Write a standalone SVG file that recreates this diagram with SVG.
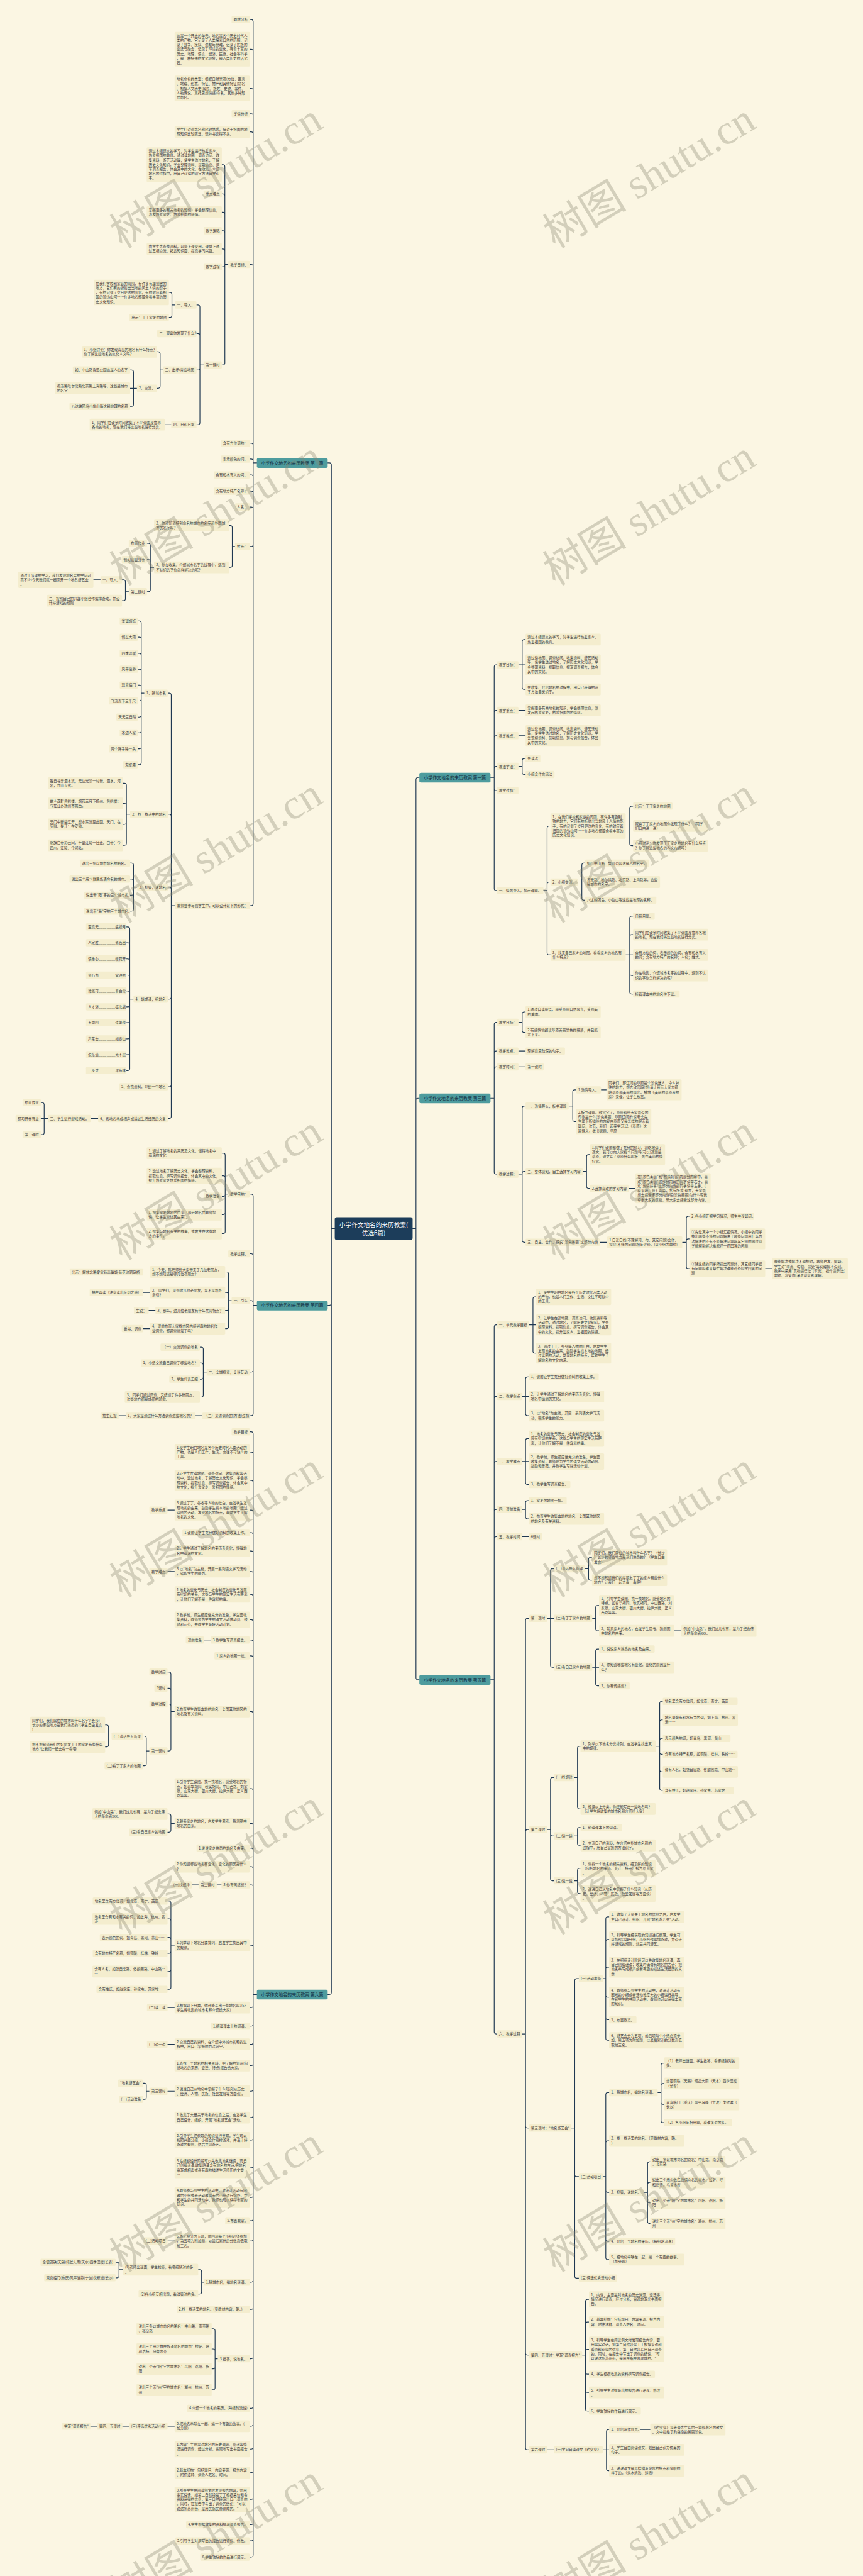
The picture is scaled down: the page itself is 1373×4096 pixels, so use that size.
<svg xmlns="http://www.w3.org/2000/svg" width="1373" height="4096" viewBox="0 0 1373 4096">
<style>
.bg{fill:#FBF6E3}
.b{fill:#F4EDCE;rx:3px}
.t{font-family:"Noto Sans CJK SC","Noto Sans",sans-serif;font-size:10.5px;fill:#3A3A3A}
.c{fill:none;stroke:#1F3852;stroke-width:2.2;stroke-linejoin:round;stroke-linecap:round}
.k rect{fill:#4E9C9E;rx:4px}
.k text{font-family:"Noto Sans CJK SC","Noto Sans",sans-serif;font-size:13px;fill:#0F2A3F;text-anchor:middle}
.r rect{fill:#1C3D5A;rx:6px}
.r text{font-family:"Noto Sans CJK SC","Noto Sans",sans-serif;font-size:18px;fill:#FFFFFF;text-anchor:middle}
.w{font-family:"Liberation Serif","Noto Sans CJK SC",serif;font-size:125px;fill:#8A8670;fill-opacity:.35;text-anchor:middle}
</style>
<rect class="bg" x="0" y="0" width="1373" height="4096"/>
<g transform="scale(0.536328)">
<g id="connectors" class="c">
<path d="M993 3642H983M983 3642V1378Q983 1372 977 1372H972M983 3642V3864Q983 3870 977 3870H972M983 3642V5907Q983 5913 977 5913H972"/>
<path d="M1224 3642H1234M1234 3642V2311Q1234 2305 1240 2305H1244M1234 3642V3262Q1234 3256 1240 3256H1244M1234 3642V4974Q1234 4980 1240 4980H1244"/>
<path d="M762 1372H751M751 1372V64Q751 58 745 58H741M751 1372V152Q751 146 745 146H741M751 1372V268Q751 262 745 262H741M751 1372V343Q751 337 745 337H741M751 1372V397Q751 391 745 391H741M751 1372V790Q751 784 745 784H741M751 1372V1320Q751 1314 745 1314H741M751 1372V1367Q751 1361 745 1361H741M751 1372V1414Q751 1408 745 1408H741M751 1372V1462Q751 1456 745 1456H741M751 1372V1509Q751 1503 745 1503H741M751 1372V1614Q751 1620 745 1620H741M751 1372V2679Q751 2685 745 2685H741"/>
<path d="M677 784H667M667 784V494Q667 488 661 488H658M667 784V581Q667 575 661 575H658M667 784V635Q667 629 661 629H658M667 784V690Q667 684 661 684H658M667 784V744Q667 738 661 738H658M667 784V785Q667 791 661 791H658M667 784V1076Q667 1082 661 1082H658"/>
<path d="M604 1082H593M593 1082V910Q593 904 587 904H583M593 1082V995Q593 989 587 989H583M593 1082V1091Q593 1097 587 1097H583M593 1082V1253Q593 1259 587 1259H583"/>
<path d="M519 904H510M510 904V873Q510 867 504 867H501M510 904V935Q510 941 504 941H501"/>
<path d="M483 1097H475M475 1097V1049Q475 1043 469 1043H466M475 1097V1145Q475 1151 469 1151H466"/>
<path d="M406 1151H386M396 1151V1103Q396 1097 390 1097H386M396 1151V1199Q396 1205 390 1205H386"/>
<path d="M508 1259H489"/>
<path d="M697 1620H689M689 1620V1564Q689 1558 683 1558H680M689 1620V1676Q689 1682 683 1682H680"/>
<path d="M457 1682H446M446 1682V1617Q446 1611 440 1611H436M446 1682V1665Q446 1659 440 1659H436M446 1682V1748Q446 1754 440 1754H436"/>
<path d="M382 1754H372M372 1754V1725Q372 1719 366 1719H362M372 1754V1775Q372 1781 366 1781H362"/>
<path d="M298 1719H277"/>
<path d="M519 2685H508M508 2685V2061Q508 2055 502 2055H498M508 2685V2420Q508 2414 502 2414H498M508 2685V2636Q508 2630 502 2630H498M508 2685V2956Q508 2962 502 2962H498M508 2685V3216Q508 3222 502 3222H498M508 2685V3310Q508 3316 502 3316H498"/>
<path d="M428 2055H419M419 2055V1847Q419 1841 413 1841H409M419 2055V1895Q419 1889 413 1889H409M419 2055V1943Q419 1937 413 1937H409M419 2055V1990Q419 1984 413 1984H409M419 2055V2037Q419 2031 413 2031H409M419 2055V2072Q419 2078 413 2078H409M419 2055V2120Q419 2126 413 2126H409M419 2055V2167Q419 2173 413 2173H409M419 2055V2214Q419 2220 413 2220H409M419 2055V2261Q419 2267 413 2267H409"/>
<path d="M386 2414H375M375 2414V2328Q375 2322 369 2322H365M375 2414V2388Q375 2382 369 2382H365M375 2414V2438Q375 2444 369 2444H365M375 2414V2500Q375 2506 369 2506H365"/>
<path d="M407 2630H396M396 2630V2565Q396 2559 390 2559H386M396 2630V2612Q396 2606 390 2606H386M396 2630V2648Q396 2654 390 2654H386M396 2630V2695Q396 2701 390 2701H386"/>
<path d="M396 2962H385M385 2962V2754Q385 2748 379 2748H375M385 2962V2801Q385 2795 379 2795H375M385 2962V2849Q385 2843 379 2843H375M385 2962V2897Q385 2891 379 2891H375M385 2962V2944Q385 2938 379 2938H375M385 2962V2979Q385 2985 379 2985H375M385 2962V3026Q385 3032 379 3032H375M385 2962V3074Q385 3080 379 3080H375M385 2962V3121Q385 3127 379 3127H375M385 2962V3168Q385 3174 379 3174H375"/>
<path d="M291 3316H269M142 3316H121M131 3316V3275Q131 3269 125 3269H121M131 3316V3358Q131 3364 125 3364H121"/>
<path d="M762 3870H751M751 3870V3546Q751 3540 745 3540H741M751 3870V3723Q751 3717 745 3717H741M751 3870V3862Q751 3856 745 3856H741M751 3870V4062Q751 4068 745 4068H741M751 3870V4191Q751 4197 745 4197H741"/>
<path d="M677 3540H668M668 3540V3425Q668 3419 662 3419H658M668 3540V3492Q668 3486 662 3486H658M668 3540V3541Q668 3547 662 3547H658M668 3540V3595Q668 3601 662 3601H658M668 3540V3651Q668 3657 662 3657H658"/>
<path d="M687 3856H678M678 3856V3777Q678 3771 672 3771H668M678 3856V3838Q678 3832 672 3832H668M678 3856V3879Q678 3885 672 3885H668M678 3856V3933Q678 3939 672 3939H668M445 3771H425M445 3832H425M461 3885H441M445 3939H425"/>
<path d="M613 4068H603M603 4068V4000Q603 3994 597 3994H593M603 4068V4047Q603 4041 597 4041H593M603 4068V4083Q603 4089 597 4089H593M603 4068V4136Q603 4142 597 4142H593"/>
<path d="M600 4197H580M373 4197H352"/>
<path d="M762 5913H751M751 5913V4251Q751 4245 745 4245H741M751 5913V4311Q751 4305 745 4305H741M751 5913V4395Q751 4389 745 4389H741M751 5913V4483Q751 4477 745 4477H741M751 5913V4550Q751 4544 745 4544H741M751 5913V4604Q751 4598 745 4598H741M751 5913V4665Q751 4659 745 4659H741M751 5913V4733Q751 4727 745 4727H741M751 5913V4808Q751 4802 745 4802H741M751 5913V4868Q751 4862 745 4862H741M751 5913V4915Q751 4909 745 4909H741M751 5913V5080Q751 5074 745 5074H741M751 5913V5309Q751 5303 745 5303H741M751 5913V5412Q751 5406 745 5406H741M751 5913V5485Q751 5479 745 5479H741M751 5913V5540Q751 5534 745 5534H741M751 5913V5594Q751 5588 745 5588H741M751 5913V5773Q751 5767 745 5767H741"/>
<path d="M751 5913V5946Q751 5952 745 5952H741M751 5913V6001Q751 6007 745 6007H741M751 5913V6055Q751 6061 745 6061H741M751 5913V6118Q751 6124 745 6124H741M751 5913V6194Q751 6200 745 6200H741M751 5913V6272Q751 6278 745 6278H741M751 5913V6339Q751 6345 745 6345H741M751 5913V6421Q751 6427 745 6427H741M751 5913V6509Q751 6515 745 6515H741M751 5913V6578Q751 6584 745 6584H741M751 5913V6638Q751 6644 745 6644H741M751 5913V6760Q751 6766 745 6766H741M751 5913V6841Q751 6847 745 6847H741M751 5913V6987Q751 6993 745 6993H741M751 5913V7134Q751 7140 745 7140H741M751 5913V7187Q751 7193 745 7193H741M751 5913V7255Q751 7261 745 7261H741M751 5913V7325Q751 7331 745 7331H741M751 5913V7404Q751 7410 745 7410H741M751 5913V7479Q751 7485 745 7485H741M751 5913V7527Q751 7533 745 7533H741M751 5913V7575Q751 7581 745 7581H741"/>
<path d="M518 4477H497M518 4659H497M625 4862H605M657 5588H643M589 5588H569M518 5952H497M518 6061H497M518 6644H497M518 7193H497M383 7193H363M288 7193H268"/>
<path d="M518 5074H507M507 5074V4963Q507 4957 501 4957H497M507 5074V5011Q507 5005 501 5005H497M507 5074V5058Q507 5052 501 5052H497M507 5074V5185Q507 5191 501 5191H497"/>
<path d="M443 5191H434M434 5191V5153Q434 5147 428 5147H424M434 5191V5229Q434 5235 428 5235H424"/>
<path d="M331 5147H322M322 5147V5120Q322 5114 316 5114H312M322 5147V5173Q322 5179 316 5179H312"/>
<path d="M518 5406H507M507 5406V5384Q507 5378 501 5378H497M507 5406V5426Q507 5432 501 5432H497"/>
<path d="M518 5767H507M507 5767V5642Q507 5636 501 5636H497M507 5767V5695Q507 5689 501 5689H497M507 5767V5750Q507 5744 501 5744H497M507 5767V5785Q507 5791 501 5791H497M507 5767V5839Q507 5845 501 5845H497M507 5767V5892Q507 5898 501 5898H497"/>
<path d="M518 6200H497M443 6200H434M434 6200V6182Q434 6176 428 6176H424M434 6200V6218Q434 6224 428 6224H424"/>
<path d="M605 6766H598M598 6766V6735Q598 6729 592 6729H588M598 6766V6795Q598 6801 592 6801H588"/>
<path d="M365 6729H353M353 6729V6713Q353 6707 347 6707H343M353 6729V6747Q353 6753 347 6753H343"/>
<path d="M646 6993H638M638 6993V6910Q638 6904 632 6904H628M638 6993V6970Q638 6964 632 6964H628M638 6993V7017Q638 7023 632 7023H628M638 6993V7079Q638 7085 632 7085H628"/>
<path d="M1455 2305H1466M1466 2305V1977Q1466 1971 1472 1971H1474M1466 2305V2112Q1466 2106 1472 2106H1474M1466 2305V2187Q1466 2181 1472 2181H1474M1466 2305V2278Q1466 2272 1472 2272H1474M1466 2305V2338Q1466 2344 1472 2344H1474M1466 2305V2634Q1466 2640 1472 2640H1474"/>
<path d="M1538 1971H1559M1549 1971V1902Q1549 1896 1555 1896H1559M1549 1971V2038Q1549 2044 1555 2044H1559M1538 2106H1559M1538 2181H1559"/>
<path d="M1538 2272H1549M1549 2272V2255Q1549 2249 1555 2249H1559M1549 2272V2290Q1549 2296 1555 2296H1559"/>
<path d="M1612 2640H1623M1623 2640V2455Q1623 2449 1629 2449H1633M1623 2640V2621Q1623 2615 1629 2615H1633M1623 2640V2825Q1623 2831 1629 2831H1633"/>
<path d="M1856 2449H1878M1868 2449V2396Q1868 2390 1874 2390H1878M1868 2449V2501Q1868 2507 1874 2507H1878"/>
<path d="M1714 2615H1735M1726 2615V2565Q1726 2559 1732 2559H1735M1726 2615V2663Q1726 2669 1732 2669H1735"/>
<path d="M1856 2831H1878M1868 2831V2722Q1868 2716 1874 2716H1878M1868 2831V2777Q1868 2771 1874 2771H1878M1868 2831V2886Q1868 2892 1874 2892H1878M1868 2831V2941Q1868 2947 1874 2947H1878"/>
<path d="M1455 3256H1466M1466 3256V3037Q1466 3031 1472 3031H1474M1466 3256V3122Q1466 3116 1472 3116H1474M1466 3256V3169Q1466 3163 1472 3163H1474M1466 3256V3475Q1466 3481 1472 3481H1474"/>
<path d="M1538 3031H1549M1549 3031V3006Q1549 3000 1555 3000H1559M1549 3031V3055Q1549 3061 1555 3061H1559M1538 3116H1559M1538 3163H1559"/>
<path d="M1538 3481H1549M1549 3481V3285Q1549 3279 1555 3279H1559M1549 3481V3479Q1549 3473 1555 3473H1559M1549 3481V3677Q1549 3683 1555 3683H1559"/>
<path d="M1687 3279H1699M1699 3279V3237Q1699 3231 1705 3231H1709M1699 3279V3319Q1699 3325 1705 3325H1709M1783 3231H1799"/>
<path d="M1729 3473H1740M1740 3473V3429Q1740 3423 1746 3423H1750M1740 3473V3517Q1740 3523 1746 3523H1750M1866 3523H1885"/>
<path d="M1780 3683H1801M2024 3683H2036M2036 3683V3612Q2036 3606 2042 3606H2045M2036 3683V3679Q2036 3673 2042 3673H2045M2036 3683V3755Q2036 3761 2042 3761H2045M2270 3761H2290"/>
<path d="M1455 4980H1466M1466 4980V3934Q1466 3928 1472 3928H1474M1466 4980V4146Q1466 4140 1472 4140H1474M1466 4980V4339Q1466 4333 1472 4333H1474M1466 4980V4481Q1466 4475 1472 4475H1474M1466 4980V4562Q1466 4556 1472 4556H1474M1466 4980V6024Q1466 6030 1472 6030H1474"/>
<path d="M1570 3928H1590M1581 3928V3851Q1581 3845 1587 3845H1590M1581 3928V4006Q1581 4012 1587 4012H1590"/>
<path d="M1549 4140H1569M1559 4140V4088Q1559 4082 1565 4082H1569M1559 4140V4191Q1559 4197 1565 4197H1569"/>
<path d="M1549 4333H1569M1559 4333V4271Q1559 4265 1565 4265H1569M1559 4333V4395Q1559 4401 1565 4401H1569"/>
<path d="M1549 4475H1559M1559 4475V4455Q1559 4449 1565 4449H1569M1559 4475V4497Q1559 4503 1565 4503H1569M1549 4556H1569"/>
<path d="M1549 6030H1559M1559 6030V4804Q1559 4798 1565 4798H1569M1559 6030V5430Q1559 5424 1565 5424H1569M1559 6030V6303Q1559 6309 1565 6309H1569M1559 6030V6976Q1559 6982 1565 6982H1569M1559 6030V7257Q1559 7263 1565 7263H1569"/>
<path d="M1623 4798H1643M1633 4798V4657Q1633 4651 1639 4651H1643M1633 4798V4937Q1633 4943 1639 4943H1643"/>
<path d="M1736 4651H1746M1746 4651V4623Q1746 4617 1752 4617H1756M1746 4651V4679Q1746 4685 1752 4685H1756"/>
<path d="M1757 4798H1767M1767 4798V4766Q1767 4760 1773 4760H1777M1767 4798V4829Q1767 4835 1773 4835H1777M2000 4835H2021"/>
<path d="M1757 4943H1777M1767 4943V4895Q1767 4889 1773 4889H1777M1767 4943V4992Q1767 4998 1773 4998H1777"/>
<path d="M1623 5424H1633M1633 5424V5276Q1633 5270 1639 5270H1643M1633 5424V5437Q1633 5443 1639 5443H1643M1633 5424V5570Q1633 5576 1639 5576H1643"/>
<path d="M1704 5270H1713M1713 5270V5183Q1713 5177 1719 5177H1722M1713 5270V5357Q1713 5363 1719 5363H1722"/>
<path d="M1945 5177H1957M1957 5177V5050Q1957 5044 1963 5044H1966M1957 5177V5105Q1957 5099 1963 5099H1966M1957 5177V5160Q1957 5154 1963 5154H1966M1957 5177V5195Q1957 5201 1963 5201H1966M1957 5177V5247Q1957 5253 1963 5253H1966M1957 5177V5302Q1957 5308 1963 5308H1966"/>
<path d="M1704 5443H1713M1713 5443V5424Q1713 5418 1719 5418H1722M1713 5443V5465Q1713 5471 1719 5471H1722"/>
<path d="M1704 5576H1713M1713 5576V5545Q1713 5539 1719 5539H1722M1713 5576V5608Q1713 5614 1719 5614H1722"/>
<path d="M1695 6309H1705M1705 6309V5872Q1705 5866 1711 5866H1717M1705 6309V6447Q1705 6453 1711 6453H1717M1705 6309V6748Q1705 6754 1711 6754H1717"/>
<path d="M1788 5866H1797M1797 5866V5689Q1797 5683 1803 5683H1807M1797 5866V5756Q1797 5750 1803 5750H1807M1797 5866V5838Q1797 5832 1803 5832H1807M1797 5866V5915Q1797 5921 1803 5921H1807M1797 5866V5982Q1797 5988 1803 5988H1807M1797 5866V6043Q1797 6049 1803 6049H1807"/>
<path d="M1788 6453H1797M1797 6453V6210Q1797 6204 1803 6204H1807M1797 6453V6353Q1797 6347 1803 6347H1807M1797 6453V6494Q1797 6500 1803 6500H1807M1797 6453V6639Q1797 6645 1803 6645H1807M1797 6453V6693Q1797 6699 1803 6699H1807"/>
<path d="M1951 6204H1961M1961 6204V6123Q1961 6117 1967 6117H1970M1961 6204V6183Q1961 6177 1967 6177H1970M1961 6204V6233Q1961 6239 1967 6239H1970M1961 6204V6287Q1961 6293 1967 6293H1970"/>
<path d="M1909 6500H1921M1921 6500V6415Q1921 6409 1927 6409H1929M1921 6500V6476Q1921 6470 1927 6470H1929M1921 6500V6525Q1921 6531 1927 6531H1929M1921 6500V6586Q1921 6592 1927 6592H1929"/>
<path d="M1727 6982H1737M1737 6982V6823Q1737 6817 1743 6817H1747M1737 6982V6890Q1737 6884 1743 6884H1747M1737 6982V6971Q1737 6965 1743 6965H1747M1737 6982V7033Q1737 7039 1743 7039H1747M1737 6982V7087Q1737 7093 1743 7093H1747M1737 6982V7142Q1737 7148 1743 7148H1747"/>
<path d="M1623 7263H1643M1788 7263H1807M1799 7263V7209Q1799 7203 1805 7203H1807M1799 7263V7319Q1799 7325 1805 7325H1807M1898 7203H1929"/>
</g>
<g id="root" class="r"><rect x="993" y="3609" width="231" height="67"/><text x="1108.5" y="3638">小学作文地名的来历教案(</text><text x="1108.5" y="3662">优选6篇)</text></g>
<g id="b2" class="k"><rect x="762" y="1358" width="210" height="29"/><text x="867" y="1377">小学作文地名的来历教案 第二篇</text></g>
<g id="b4" class="k"><rect x="762" y="3856" width="210" height="29"/><text x="867" y="3875">小学作文地名的来历教案 第四篇</text></g>
<g id="b6" class="k"><rect x="762" y="5899" width="210" height="29"/><text x="867" y="5918">小学作文地名的来历教案 第六篇</text></g>
<g id="b1" class="k"><rect x="1244" y="2291" width="211" height="29"/><text x="1349.5" y="2310">小学作文地名的来历教案 第一篇</text></g>
<g id="b3" class="k"><rect x="1244" y="3242" width="211" height="29"/><text x="1349.5" y="3261">小学作文地名的来历教案 第三篇</text></g>
<g id="b5" class="k"><rect x="1244" y="4966" width="211" height="29"/><text x="1349.5" y="4985">小学作文地名的来历教案 第五篇</text></g>
<g id="nodes-l2">
<g id="a1"><rect class="b" x="687" y="47.3" width="54" height="21.5"/><text class="t" x="693" y="61.8">教材分析</text></g>
<g id="a2"><rect class="b" x="518" y="94.8" width="223" height="102.5"/><text class="t" x="524" y="109.3">这是一个开放的单元。地名是各个历史时代人<tspan x="524" dy="13.5">类的产物。它记录了人类探索自然的历程，记</tspan><tspan x="524" dy="13.5">录了战争、疾病、浩劫与磨难，记录了民族的</tspan><tspan x="524" dy="13.5">变迁与融合，记录了环境的变化，有着丰富的</tspan><tspan x="524" dy="13.5">历史、地理、语言、经济、民族、社会等科学</tspan><tspan x="524" dy="13.5">，是一种特殊的文化现象，是人类历史的活化</tspan><tspan x="524" dy="13.5">石。</tspan></text></g>
<g id="a3"><rect class="b" x="518" y="224.3" width="223" height="75.5"/><text class="t" x="524" y="238.8">地名命名的类型：根据自然景观(方位、距离<tspan x="524" dy="13.5">、地理、形态、特征、物产和其他特征)命名</tspan><tspan x="524" dy="13.5">、根据人文历史(居民、族姓、史迹、事件、</tspan><tspan x="524" dy="13.5">人物传说、寓托思想情感)命名、其他多种形</tspan><tspan x="524" dy="13.5">式命名。</tspan></text></g>
<g id="a4"><rect class="b" x="687" y="326.3" width="54" height="21.5"/><text class="t" x="693" y="340.8">学情分析</text></g>
<g id="a5"><rect class="b" x="518" y="373.5" width="223" height="35"/><text class="t" x="524" y="388">学生们对道路名称比较熟悉，但对于祖国的地<tspan x="524" dy="13.5">理知识比较匮乏，课外书读得不多。</tspan></text></g>
<g id="a6"><rect class="b" x="677" y="773.3" width="64" height="21.5"/><text class="t" x="683" y="787.8">教学目标：</text></g>
<g id="a7"><rect class="b" x="435" y="436.8" width="223" height="102.5"/><text class="t" x="441" y="451.3">通过本组课文的学习，对学生进行热爱家乡、<tspan x="441" dy="13.5">热爱祖国的教育。通过读地图、调查访问、收</tspan><tspan x="441" dy="13.5">集资料、游艺活动等，使学生透过地名，了解</tspan><tspan x="441" dy="13.5">历史文化知识，学会整理资料、提取信息、撰</tspan><tspan x="441" dy="13.5">写调查报告，体会其中的文化。在收集、介绍</tspan><tspan x="441" dy="13.5">地名的过程中，用自己获得的识字方法自觉识</tspan><tspan x="441" dy="13.5">字。</tspan></text></g>
<g id="a8"><rect class="b" x="604" y="564.3" width="54" height="21.5"/><text class="t" x="610" y="578.8">重点难点</text></g>
<g id="a9"><rect class="b" x="435" y="611.5" width="223" height="35"/><text class="t" x="441" y="626">掌握更多的有关地名的知识，学会整理信息，<tspan x="441" dy="13.5">激发热爱家乡、热爱祖国的感情。</tspan></text></g>
<g id="a10"><rect class="b" x="604" y="673.3" width="54" height="21.5"/><text class="t" x="610" y="687.8">教学策略</text></g>
<g id="a11"><rect class="b" x="435" y="720.5" width="223" height="35"/><text class="t" x="441" y="735">由学生先查找资料，以备上课使用。课堂上通<tspan x="441" dy="13.5">过互相交流，拓宽知识面，提高学习兴趣。</tspan></text></g>
<g id="a12"><rect class="b" x="604" y="780.3" width="54" height="21.5"/><text class="t" x="610" y="794.8">教学过程</text></g>
<g id="a13"><rect class="b" x="604" y="1071.3" width="54" height="21.5"/><text class="t" x="610" y="1085.8">第一课时</text></g>
<g id="a14"><rect class="b" x="519" y="893.3" width="64" height="21.5"/><text class="t" x="525" y="907.8">一、导入：</text></g>
<g id="a15"><rect class="b" x="278" y="829.3" width="223" height="75.5"/><text class="t" x="284" y="843.8">在我们学校和家庭的周围，有许多有趣别致的<tspan x="284" dy="13.5">地方，它们有的折射出当地的风土人情的影子</tspan><tspan x="284" dy="13.5">，有的记载了岁月更迭的变化，有的对应着祖</tspan><tspan x="284" dy="13.5">国的锦绣山河……许多地名都蕴含着丰富的历</tspan><tspan x="284" dy="13.5">史文化知识。</tspan></text></g>
<g id="a16"><rect class="b" x="384" y="930.3" width="117" height="21.5"/><text class="t" x="390" y="944.8">出示：丁丁家乡的地图</text></g>
<g id="a17"><rect class="b" x="466" y="978.3" width="117" height="21.5"/><text class="t" x="472" y="992.8">二、观察你发现了什么？</text></g>
<g id="a18"><rect class="b" x="483.5" y="1086.3" width="99.5" height="21.5"/><text class="t" x="489.5" y="1100.8">三、出示:青岛地图</text></g>
<g id="a19"><rect class="b" x="243" y="1025.5" width="223" height="35"/><text class="t" x="249" y="1040">1、小组讨论：你发现青岛的地名有什么特点？<tspan x="249" dy="13.5">你了解这些地名的文化人文吗？</tspan></text></g>
<g id="a20"><rect class="b" x="406" y="1140.3" width="60" height="21.5"/><text class="t" x="412" y="1154.8">2、交流：</text></g>
<g id="a21"><rect class="b" x="216" y="1086.3" width="170" height="21.5"/><text class="t" x="222" y="1100.8">如：中山路鲁迅公园这是人的名字</text></g>
<g id="a22"><rect class="b" x="163" y="1133.5" width="223" height="35"/><text class="t" x="169" y="1148">香港路哈尔滨路北京路上海路等，这些是城市<tspan x="169" dy="13.5">的名字</tspan></text></g>
<g id="a23"><rect class="b" x="206" y="1194.3" width="180" height="21.5"/><text class="t" x="212" y="1208.8">八达峡团岛小鱼山等这是地理的名称</text></g>
<g id="a24"><rect class="b" x="508" y="1248.3" width="75" height="21.5"/><text class="t" x="514" y="1262.8">四、日积月累</text></g>
<g id="a25"><rect class="b" x="266" y="1241.5" width="223" height="35"/><text class="t" x="272" y="1256">1、同学们在课余时间收集了不少全国及世界<tspan x="272" dy="13.5">各地的地名，现在我们将这些地名进行分类：</tspan></text></g>
<g id="a26"><rect class="b" x="655" y="1303.3" width="86" height="21.5"/><text class="t" x="661" y="1317.8">含有方位词的：</text></g>
<g id="a27"><rect class="b" x="655" y="1350.3" width="86" height="21.5"/><text class="t" x="661" y="1364.8">表示颜色的词：</text></g>
<g id="a28"><rect class="b" x="634" y="1397.3" width="107" height="21.5"/><text class="t" x="640" y="1411.8">含有和水有关的词：</text></g>
<g id="a29"><rect class="b" x="634" y="1445.3" width="107" height="21.5"/><text class="t" x="640" y="1459.8">含有地方特产名称：</text></g>
<g id="a30"><rect class="b" x="697" y="1492.3" width="44" height="21.5"/><text class="t" x="703" y="1506.8">人名：</text></g>
<g id="a31"><rect class="b" x="697" y="1609.3" width="44" height="21.5"/><text class="t" x="703" y="1623.8">姓氏：</text></g>
<g id="a32"><rect class="b" x="457" y="1540.5" width="223" height="35"/><text class="t" x="463" y="1555">2、你还知道特别命名的城市的名字和外国城<tspan x="463" dy="13.5">市的名字吗？</tspan></text></g>
<g id="a33"><rect class="b" x="457" y="1664.5" width="223" height="35"/><text class="t" x="463" y="1679">3、你在收集、介绍城市名字的过程中，遇到<tspan x="463" dy="13.5">不认识的字你怎样解决的呢？</tspan></text></g>
<g id="a34"><rect class="b" x="382" y="1600.3" width="54" height="21.5"/><text class="t" x="388" y="1614.8">布置作业</text></g>
<g id="a35"><rect class="b" x="361" y="1648.3" width="75" height="21.5"/><text class="t" x="367" y="1662.8">预习初显身手</text></g>
<g id="a36"><rect class="b" x="382" y="1743.3" width="54" height="21.5"/><text class="t" x="388" y="1757.8">第二课时</text></g>
<g id="a37"><rect class="b" x="298" y="1708.3" width="64" height="21.5"/><text class="t" x="304" y="1722.8">一、导入：</text></g>
<g id="a38"><rect class="b" x="54" y="1694.8" width="223" height="48.5"/><text class="t" x="60" y="1709.3">通过上节课的学习，我们发现地名里的学问可<tspan x="60" dy="13.5">真不少!今天我们就一起来开一个地名游艺会</tspan><tspan x="60" dy="13.5">。</tspan></text></g>
<g id="a39"><rect class="b" x="139" y="1763.5" width="223" height="35"/><text class="t" x="145" y="1778">二、按照自己的兴趣小组合作编排游戏，并设<tspan x="145" dy="13.5">计好游戏的规则</tspan></text></g>
<g id="a40"><rect class="b" x="519" y="2674.3" width="222" height="21.5"/><text class="t" x="525" y="2688.8">教师要参与到学生中，可以设计以下的形式：</text></g>
<g id="a41"><rect class="b" x="428" y="2044.3" width="70" height="21.5"/><text class="t" x="434" y="2058.8">1、猜城市名</text></g>
<g id="a42"><rect class="b" x="355" y="1830.3" width="54" height="21.5"/><text class="t" x="361" y="1844.8">金银铜铁</text></g>
<g id="a43"><rect class="b" x="355" y="1878.3" width="54" height="21.5"/><text class="t" x="361" y="1892.8">倾盆大雨</text></g>
<g id="a44"><rect class="b" x="355" y="1926.3" width="54" height="21.5"/><text class="t" x="361" y="1940.8">四季温暖</text></g>
<g id="a45"><rect class="b" x="355" y="1973.3" width="54" height="21.5"/><text class="t" x="361" y="1987.8">风平浪静</text></g>
<g id="a46"><rect class="b" x="355" y="2020.3" width="54" height="21.5"/><text class="t" x="361" y="2034.8">双喜临门</text></g>
<g id="a47"><rect class="b" x="323" y="2067.3" width="86" height="21.5"/><text class="t" x="329" y="2081.8">飞流直下三千尺</text></g>
<g id="a48"><rect class="b" x="345" y="2115.3" width="64" height="21.5"/><text class="t" x="351" y="2129.8">天无三日晴</text></g>
<g id="a49"><rect class="b" x="355" y="2162.3" width="54" height="21.5"/><text class="t" x="361" y="2176.8">水边人家</text></g>
<g id="a50"><rect class="b" x="323" y="2209.3" width="86" height="21.5"/><text class="t" x="329" y="2223.8">两个胖子睡一头</text></g>
<g id="a51"><rect class="b" x="365" y="2256.3" width="44" height="21.5"/><text class="t" x="371" y="2270.8">戈壁滩</text></g>
<g id="a52"><rect class="b" x="386" y="2403.3" width="112" height="21.5"/><text class="t" x="392" y="2417.8">2、找一找诗中的地名</text></g>
<g id="a53"><rect class="b" x="142" y="2304.5" width="223" height="35"/><text class="t" x="148" y="2319">胜日寻芳泗水滨，无边光景一时新。泗水：河<tspan x="148" dy="13.5">名，在山东省。</tspan></text></g>
<g id="a54"><rect class="b" x="142" y="2364.5" width="223" height="35"/><text class="t" x="148" y="2379">故人西辞黄鹤楼，烟花三月下扬州。黄鹤楼：<tspan x="148" dy="13.5">今在江苏扬州市城西。</tspan></text></g>
<g id="a55"><rect class="b" x="142" y="2426.5" width="223" height="35"/><text class="t" x="148" y="2441">天门中断楚江开，碧水东流至此回。天门：在<tspan x="148" dy="13.5">安徽。楚江：在安徽。</tspan></text></g>
<g id="a56"><rect class="b" x="142" y="2488.5" width="223" height="35"/><text class="t" x="148" y="2503">朝辞白帝彩云间，千里江陵一日还。白帝：今<tspan x="148" dy="13.5">四川。江陵：今湖北。</tspan></text></g>
<g id="a57"><rect class="b" x="407" y="2619.3" width="91" height="21.5"/><text class="t" x="413" y="2633.8">3、抢答，说地名</text></g>
<g id="a58"><rect class="b" x="237" y="2548.3" width="149" height="21.5"/><text class="t" x="243" y="2562.8">说出三条以城市命名的路名。</text></g>
<g id="a59"><rect class="b" x="206" y="2595.3" width="180" height="21.5"/><text class="t" x="212" y="2609.8">说出三个用少数民族语命名的城市。</text></g>
<g id="a60"><rect class="b" x="249" y="2643.3" width="137" height="21.5"/><text class="t" x="255" y="2657.8">说出带"阳"字的三个城市名。</text></g>
<g id="a61"><rect class="b" x="249" y="2690.3" width="137" height="21.5"/><text class="t" x="255" y="2704.8">说出带"海"字的三个城市名。</text></g>
<g id="a62"><rect class="b" x="396" y="2951.3" width="102" height="21.5"/><text class="t" x="402" y="2965.8">4、填成语，组地名</text></g>
<g id="a63"><rect class="b" x="255" y="2737.3" width="120" height="21.5"/><text class="t" x="261" y="2751.8">至高无____ ____底捞月</text></g>
<g id="a64"><rect class="b" x="255" y="2784.3" width="120" height="21.5"/><text class="t" x="261" y="2798.8">人定胜____ ____落石出</text></g>
<g id="a65"><rect class="b" x="255" y="2832.3" width="120" height="21.5"/><text class="t" x="261" y="2846.8">语重心____ ____暖花开</text></g>
<g id="a66"><rect class="b" x="255" y="2880.3" width="120" height="21.5"/><text class="t" x="261" y="2894.8">金石为____ ____官许愿</text></g>
<g id="a67"><rect class="b" x="255" y="2927.3" width="120" height="21.5"/><text class="t" x="261" y="2941.8">难能可____ ____春白雪</text></g>
<g id="a68"><rect class="b" x="255" y="2974.3" width="120" height="21.5"/><text class="t" x="261" y="2988.8">人才济____ ____征北战</text></g>
<g id="a69"><rect class="b" x="255" y="3021.3" width="120" height="21.5"/><text class="t" x="261" y="3035.8">五湖四____ ____诛笔伐</text></g>
<g id="a70"><rect class="b" x="255" y="3069.3" width="120" height="21.5"/><text class="t" x="261" y="3083.8">声东击____ ____如泰山</text></g>
<g id="a71"><rect class="b" x="255" y="3116.3" width="120" height="21.5"/><text class="t" x="261" y="3130.8">说东道____ ____死不屈</text></g>
<g id="a72"><rect class="b" x="255" y="3163.3" width="120" height="21.5"/><text class="t" x="261" y="3177.8">一步登____ ____津有味</text></g>
<g id="a73"><rect class="b" x="354" y="3211.3" width="144" height="21.5"/><text class="t" x="360" y="3225.8">5、查找资料，介绍一个地名</text></g>
<g id="a74"><rect class="b" x="291" y="3305.3" width="207" height="21.5"/><text class="t" x="297" y="3319.8">6、将地名串成相声或描述生活经历的文章</text></g>
<g id="a75"><rect class="b" x="142" y="3305.3" width="127" height="21.5"/><text class="t" x="148" y="3319.8">三、学生进行游戏活动。</text></g>
<g id="a76"><rect class="b" x="67" y="3258.3" width="54" height="21.5"/><text class="t" x="73" y="3272.8">布置作业</text></g>
<g id="a77"><rect class="b" x="46" y="3305.3" width="75" height="21.5"/><text class="t" x="52" y="3319.8">预习开卷有益</text></g>
<g id="a78"><rect class="b" x="67" y="3353.3" width="54" height="21.5"/><text class="t" x="73" y="3367.8">第三课时</text></g>
</g>
<g id="nodes-l4">
<g id="d1"><rect class="b" x="677" y="3529.3" width="64" height="21.5"/><text class="t" x="683" y="3543.8">教学目的：</text></g>
<g id="d2"><rect class="b" x="435" y="3401.5" width="223" height="35"/><text class="t" x="441" y="3416">1. 通过了解地名的来历及文化，懂得地名中<tspan x="441" dy="13.5">蕴涵的文化</tspan></text></g>
<g id="d3"><rect class="b" x="435" y="3461.8" width="223" height="48.5"/><text class="t" x="441" y="3476.3">2. 透过地名了解历史文化，学会整理资料、<tspan x="441" dy="13.5">提取信息、撰写调查报告，体会其中的文化，</tspan><tspan x="441" dy="13.5">提升热爱家乡热爱祖国的情感。</tspan></text></g>
<g id="d4"><rect class="b" x="604" y="3536.3" width="54" height="21.5"/><text class="t" x="610" y="3550.8">教学准备</text></g>
<g id="d5"><rect class="b" x="435" y="3583.5" width="223" height="35"/><text class="t" x="441" y="3598">1. 搜集家乡地名的由来（部分地名由教师提<tspan x="441" dy="13.5">供，让学生查访其由来）。</tspan></text></g>
<g id="d6"><rect class="b" x="435" y="3639.5" width="223" height="35"/><text class="t" x="441" y="3654">2. 搜集与地名有关的故事，或发生在这些地<tspan x="441" dy="13.5">方的事件。</tspan></text></g>
<g id="d7"><rect class="b" x="677" y="3706.3" width="64" height="21.5"/><text class="t" x="683" y="3720.8">教学过程：</text></g>
<g id="d8"><rect class="b" x="687" y="3845.3" width="54" height="21.5"/><text class="t" x="693" y="3859.8">一、引入</text></g>
<g id="d9"><rect class="b" x="445" y="3753.5" width="223" height="35"/><text class="t" x="451" y="3768">1、今天，陈老师给大家带来了几位老朋友，<tspan x="451" dy="13.5">想不想知道是哪几位老朋友？</tspan></text></g>
<g id="d10"><rect class="b" x="207" y="3760.3" width="218" height="21.5"/><text class="t" x="213" y="3774.8">出示：解放北路梁家巷高笋塘 荷花池驷马桥</text></g>
<g id="d11"><rect class="b" x="445" y="3814.5" width="223" height="35"/><text class="t" x="451" y="3829">2、 同学们，见到这几位老朋友，是不是格外<tspan x="451" dy="13.5">亲切？</tspan></text></g>
<g id="d12"><rect class="b" x="266" y="3821.3" width="159" height="21.5"/><text class="t" x="272" y="3835.8">抽生再读（注意读出亲切之感）</text></g>
<g id="d13"><rect class="b" x="461" y="3874.3" width="207" height="21.5"/><text class="t" x="467" y="3888.8">3、那么，这几位老朋友有什么共同特点？</text></g>
<g id="d14"><rect class="b" x="397" y="3874.3" width="44" height="21.5"/><text class="t" x="403" y="3888.8">生说：</text></g>
<g id="d15"><rect class="b" x="445" y="3921.5" width="223" height="35"/><text class="t" x="451" y="3936">4、课前布置大家找市区内感兴趣的地名作一<tspan x="451" dy="13.5">些调查，都调查清楚了吗？</tspan></text></g>
<g id="d16"><rect class="b" x="361" y="3928.3" width="64" height="21.5"/><text class="t" x="367" y="3942.8">板书：调查</text></g>
<g id="d17"><rect class="b" x="613" y="4057.3" width="128" height="21.5"/><text class="t" x="619" y="4071.8">二、全城搜索，全班互动</text></g>
<g id="d18"><rect class="b" x="476" y="3983.3" width="117" height="21.5"/><text class="t" x="482" y="3997.8">（一）交流调查的地名</text></g>
<g id="d19"><rect class="b" x="418" y="4030.3" width="175" height="21.5"/><text class="t" x="424" y="4044.8">1、小组交流自己调查了哪些地名？</text></g>
<g id="d20"><rect class="b" x="502" y="4078.3" width="91" height="21.5"/><text class="t" x="508" y="4092.8">2、学生代表汇报</text></g>
<g id="d21"><rect class="b" x="370" y="4124.5" width="223" height="35"/><text class="t" x="376" y="4139">3、同学们通过调查，又结识了许多新朋友，<tspan x="376" dy="13.5">这些地方都是成都的骄傲。</tspan></text></g>
<g id="d22"><rect class="b" x="600" y="4186.3" width="141" height="21.5"/><text class="t" x="606" y="4200.8">（二）采访调查的(方法)过程</text></g>
<g id="d23"><rect class="b" x="373" y="4186.3" width="207" height="21.5"/><text class="t" x="379" y="4200.8">1、大家是通过什么方法调查这些地名的？</text></g>
<g id="d24"><rect class="b" x="298" y="4186.3" width="54" height="21.5"/><text class="t" x="304" y="4200.8">抽生汇报</text></g>
</g>
<g id="nodes-l6">
<g id="f1"><rect class="b" x="687" y="4234.3" width="54" height="21.5"/><text class="t" x="693" y="4248.8">教学目标</text></g>
<g id="f2"><rect class="b" x="518" y="4280.8" width="223" height="48.5"/><text class="t" x="524" y="4295.3">1.使学生明白地名是各个历史时代人类活动的<tspan x="524" dy="13.5">产物，也是人们工作、生活、交往不可缺少的</tspan><tspan x="524" dy="13.5">工具。</tspan></text></g>
<g id="f3"><rect class="b" x="518" y="4358" width="223" height="62"/><text class="t" x="524" y="4372.5">2.让学生在读地图、调查访问、收集资料等活<tspan x="524" dy="13.5">动中，透过地名，了解历史文化知识，学会整</tspan><tspan x="524" dy="13.5">理资料、提取信息、撰写调查报告，体会其中</tspan><tspan x="524" dy="13.5">的文化，提升爱家乡、爱祖国的情感。</tspan></text></g>
<g id="f4"><rect class="b" x="518" y="4446" width="223" height="62"/><text class="t" x="524" y="4460.5">3.通过丁丁、冬冬等人物的吐白，启发学生发<tspan x="524" dy="13.5">现地名的由来，鼓励学生找本地的地图，经过</tspan><tspan x="524" dy="13.5">读图的活动，发现地名的特点，帮助学生了解</tspan><tspan x="524" dy="13.5">地名的文化。</tspan></text></g>
<g id="f5"><rect class="b" x="443" y="4466.3" width="54" height="21.5"/><text class="t" x="449" y="4480.8">教学重点</text></g>
<g id="f6"><rect class="b" x="541" y="4533.3" width="200" height="21.5"/><text class="t" x="547" y="4547.8">1.课前让学生充分做好资料的收集工作。</text></g>
<g id="f7"><rect class="b" x="518" y="4580.5" width="223" height="35"/><text class="t" x="524" y="4595">2.让学生通过了解地名的来历及变化，懂得地<tspan x="524" dy="13.5">名中蕴涵的文化。</tspan></text></g>
<g id="f8"><rect class="b" x="518" y="4641.5" width="223" height="35"/><text class="t" x="524" y="4656">3.以"地名"为主线，开展一系列语文学习活动<tspan x="524" dy="13.5">，锻炼学生的能力。</tspan></text></g>
<g id="f9"><rect class="b" x="443" y="4648.3" width="54" height="21.5"/><text class="t" x="449" y="4662.8">教学难点</text></g>
<g id="f10"><rect class="b" x="518" y="4702.8" width="223" height="48.5"/><text class="t" x="524" y="4717.3">1.地名的变化与历史、社会制度的变化与发展<tspan x="524" dy="13.5">有密切的关系，这些与学生的现实生活有距离</tspan><tspan x="524" dy="13.5">，让他们了解不是一件容易的事。</tspan></text></g>
<g id="f11"><rect class="b" x="518" y="4777.8" width="223" height="48.5"/><text class="t" x="524" y="4792.3">2.教学前，师生都应做充分的准备，学生要收<tspan x="524" dy="13.5">集资料，教师要为学生的语文活动做动员、鼓</tspan><tspan x="524" dy="13.5">励和示范，并教学生写好活动计划。</tspan></text></g>
<g id="f12"><rect class="b" x="625" y="4851.3" width="116" height="21.5"/><text class="t" x="631" y="4865.8">3.教学生写调查报告。</text></g>
<g id="f13"><rect class="b" x="551" y="4851.3" width="54" height="21.5"/><text class="t" x="557" y="4865.8">课前准备</text></g>
<g id="f14"><rect class="b" x="636" y="4898.3" width="105" height="21.5"/><text class="t" x="642" y="4912.8">1.家乡的地图一幅。</text></g>
<g id="f15"><rect class="b" x="518" y="5056.5" width="223" height="35"/><text class="t" x="524" y="5071">2.布置学生收集本地的地名、全国其他地区的<tspan x="524" dy="13.5">地名及有关资料。</tspan></text></g>
<g id="f16"><rect class="b" x="443" y="4946.3" width="54" height="21.5"/><text class="t" x="449" y="4960.8">教学时间</text></g>
<g id="f17"><rect class="b" x="458" y="4994.3" width="39" height="21.5"/><text class="t" x="464" y="5008.8">5课时</text></g>
<g id="f18"><rect class="b" x="443" y="5041.3" width="54" height="21.5"/><text class="t" x="449" y="5055.8">教学过程</text></g>
<g id="f19"><rect class="b" x="443" y="5180.3" width="54" height="21.5"/><text class="t" x="449" y="5194.8">第一课时</text></g>
<g id="f20"><rect class="b" x="331" y="5136.3" width="93" height="21.5"/><text class="t" x="337" y="5150.8">(一)谈话导入新课</text></g>
<g id="f21"><rect class="b" x="89" y="5089.8" width="223" height="48.5"/><text class="t" x="95" y="5104.3">同学们，我们居住的城市叫什么名字?(长沙)<tspan x="95" dy="13.5">长沙的哪些地方是我们熟悉的?(学生自由发言</tspan><tspan x="95" dy="13.5">)</tspan></text></g>
<g id="f22"><rect class="b" x="89" y="5161.5" width="223" height="35"/><text class="t" x="95" y="5176">想不想知道我们的好朋友丁丁的家乡有些什么<tspan x="95" dy="13.5">地方?让我们一起去看一看吧!</tspan></text></g>
<g id="f23"><rect class="b" x="310" y="5224.3" width="114" height="21.5"/><text class="t" x="316" y="5238.8">(二)看丁丁家乡的地图</text></g>
<g id="f24"><rect class="b" x="518" y="5272" width="223" height="62"/><text class="t" x="524" y="5286.5">1.引导学生读图，找一找地名，感受地名的特<tspan x="524" dy="13.5">点，如春华胡同、秋实胡同，中山西路，刘家</tspan><tspan x="524" dy="13.5">堡，山东大街、银川大街、拉萨大街，正义西</tspan><tspan x="524" dy="13.5">路等等。</tspan></text></g>
<g id="f25"><rect class="b" x="518" y="5388.5" width="223" height="35"/><text class="t" x="524" y="5403">2.联系家乡的地名，启发学生思考、猜测图中<tspan x="524" dy="13.5">地名的由来。</tspan></text></g>
<g id="f26"><rect class="b" x="274" y="5360.5" width="223" height="35"/><text class="t" x="280" y="5375">例如"中山路"，我们这儿也有，是为了纪念伟<tspan x="280" dy="13.5">大的革命者xxx。</tspan></text></g>
<g id="f27"><rect class="b" x="383" y="5421.3" width="114" height="21.5"/><text class="t" x="389" y="5435.8">(三)看自己家乡的地图</text></g>
<g id="f28"><rect class="b" x="583" y="5468.3" width="158" height="21.5"/><text class="t" x="589" y="5482.8">1.说说家乡熟悉的地名及由来。</text></g>
<g id="f29"><rect class="b" x="518" y="5516.5" width="223" height="35"/><text class="t" x="524" y="5531">2.你知道哪些地名有变化，变化的原因是什么<tspan x="524" dy="13.5">？</tspan></text></g>
<g id="f30"><rect class="b" x="657" y="5577.3" width="84" height="21.5"/><text class="t" x="663" y="5591.8">3.你有何感想？</text></g>
<g id="f31"><rect class="b" x="589" y="5577.3" width="54" height="21.5"/><text class="t" x="595" y="5591.8">第二课时</text></g>
<g id="f32"><rect class="b" x="508" y="5577.3" width="61" height="21.5"/><text class="t" x="514" y="5591.8">(一)找规律</text></g>
<g id="f33"><rect class="b" x="518" y="5749.5" width="223" height="35"/><text class="t" x="524" y="5764">1.列举以下地名分类排列，启发学生找出其中<tspan x="524" dy="13.5">的规律。</tspan></text></g>
<g id="f34"><rect class="b" x="275" y="5625.3" width="222" height="21.5"/><text class="t" x="281" y="5639.8">地名里含有方位词，如北京、南宁、西安……</text></g>
<g id="f35"><rect class="b" x="274" y="5671.5" width="223" height="35"/><text class="t" x="280" y="5686">地名里含有和水有关的词，如上海、杭州、香<tspan x="280" dy="13.5">港……</tspan></text></g>
<g id="f36"><rect class="b" x="296" y="5733.3" width="201" height="21.5"/><text class="t" x="302" y="5747.8">表示颜色的词，如青岛、黑河、黄山……</text></g>
<g id="f37"><rect class="b" x="275" y="5780.3" width="222" height="21.5"/><text class="t" x="281" y="5794.8">含有地方特产名称，如铜陵、桂林、铁岭……</text></g>
<g id="f38"><rect class="b" x="274" y="5827.5" width="223" height="35"/><text class="t" x="280" y="5842">含有人名，如张自忠路、佟麟阁路、中山路…<tspan x="280" dy="13.5">…</tspan></text></g>
<g id="f39"><rect class="b" x="286" y="5887.3" width="211" height="21.5"/><text class="t" x="292" y="5901.8">含有姓氏，如赵家庄、孙家屯、苏家坨……</text></g>
<g id="f40"><rect class="b" x="518" y="5934.5" width="223" height="35"/><text class="t" x="524" y="5949">2.根据以上分类，你还能写出一些地名吗?(让<tspan x="524" dy="13.5">学生将收集的城市名称介绍给大家)</tspan></text></g>
<g id="f41"><rect class="b" x="436" y="5941.3" width="61" height="21.5"/><text class="t" x="442" y="5955.8">(二)读一读</text></g>
<g id="f42"><rect class="b" x="626" y="5996.3" width="115" height="21.5"/><text class="t" x="632" y="6010.8">1.朗读课本上的词语。</text></g>
<g id="f43"><rect class="b" x="518" y="6043.5" width="223" height="35"/><text class="t" x="524" y="6058">2.交流自己的资料，在介绍中外城市名称的过<tspan x="524" dy="13.5">程中，用自己掌握的方法识字。</tspan></text></g>
<g id="f44"><rect class="b" x="436" y="6050.3" width="61" height="21.5"/><text class="t" x="442" y="6064.8">(三)说一说</text></g>
<g id="f45"><rect class="b" x="518" y="6106.5" width="223" height="35"/><text class="t" x="524" y="6121">1.查找一个地名的相关资料，把了解的知识(包<tspan x="524" dy="13.5">括地名的来历、变迁、特点)报告给大家。</tspan></text></g>
<g id="f46"><rect class="b" x="518" y="6182.5" width="223" height="35"/><text class="t" x="524" y="6197">2.说说自己从地名中掌握了什么知识(从历史<tspan x="524" dy="13.5">、经济、人物、民族、社会发展等方面谈)。</tspan></text></g>
<g id="f47"><rect class="b" x="443" y="6189.3" width="54" height="21.5"/><text class="t" x="449" y="6203.8">第三课时</text></g>
<g id="f48"><rect class="b" x="350" y="6165.3" width="74" height="21.5"/><text class="t" x="356" y="6179.8">"地名游艺会"</text></g>
<g id="f49"><rect class="b" x="353" y="6213.3" width="71" height="21.5"/><text class="t" x="359" y="6227.8">(一)活动准备</text></g>
<g id="f50"><rect class="b" x="518" y="6260.5" width="223" height="35"/><text class="t" x="524" y="6275">1.收集了大量关于地名的信息之后，启发学生<tspan x="524" dy="13.5">自己设计、组织、开展"地名游艺会"活动。</tspan></text></g>
<g id="f51"><rect class="b" x="518" y="6320.8" width="223" height="48.5"/><text class="t" x="524" y="6335.3">2.引导学生把获取的知识进行整理。学生可以<tspan x="524" dy="13.5">按照兴趣分组，小组合作编排游戏，并设计好</tspan><tspan x="524" dy="13.5">游戏的规则，然后共同游艺。</tspan></text></g>
<g id="f52"><rect class="b" x="518" y="6396" width="223" height="62"/><text class="t" x="524" y="6410.5">3.在组织设计阶段可以先收集地名谜语，再自<tspan x="524" dy="13.5">己创编谜语;收集吟诵含有地名的古诗;把地名</tspan><tspan x="524" dy="13.5">串写成相声或者有趣的描述生活经历的文章…</tspan><tspan x="524" dy="13.5">…</tspan></text></g>
<g id="f53"><rect class="b" x="518" y="6484" width="223" height="62"/><text class="t" x="524" y="6498.5">4.教师参与到学生的活动中，对设计活动有困<tspan x="524" dy="13.5">难的小组或者活动难度大的小组进行指导，在</tspan><tspan x="524" dy="13.5">和学生的共同活动中，教师也可以获得丰富的</tspan><tspan x="524" dy="13.5">知识。</tspan></text></g>
<g id="f54"><rect class="b" x="668" y="6573.3" width="73" height="21.5"/><text class="t" x="674" y="6587.8">5.布置教室。</text></g>
<g id="f55"><rect class="b" x="518" y="6619.8" width="223" height="48.5"/><text class="t" x="524" y="6634.3">6.游艺会分为五项，前四项每个小组必须参加<tspan x="524" dy="13.5">，第五项为附加题，以最后累计的分数高低取</tspan><tspan x="524" dy="13.5">前三名。</tspan></text></g>
<g id="f56"><rect class="b" x="426" y="6633.3" width="71" height="21.5"/><text class="t" x="432" y="6647.8">(二)活动项目</text></g>
<g id="f57"><rect class="b" x="605" y="6755.3" width="136" height="21.5"/><text class="t" x="611" y="6769.8">1.猜城市名，编地名谜语。</text></g>
<g id="f58"><rect class="b" x="365" y="6711.5" width="223" height="35"/><text class="t" x="371" y="6726">(1)老师出谜面，学生抢答，看哪组猜对的多<tspan x="371" dy="13.5">。</tspan></text></g>
<g id="f59"><rect class="b" x="120" y="6696.3" width="223" height="21.5"/><text class="t" x="126" y="6710.8">金银铜铁(无锡)倾盆大雨(天水)四季温暖(长春)</text></g>
<g id="f60"><rect class="b" x="131" y="6742.3" width="212" height="21.5"/><text class="t" x="137" y="6756.8">双喜临门(重庆)风平浪静(宁波)戈壁滩(长沙)</text></g>
<g id="f61"><rect class="b" x="411" y="6790.3" width="177" height="21.5"/><text class="t" x="417" y="6804.8">(2)各小组互相出题，看谁答对的多。</text></g>
<g id="f62"><rect class="b" x="524" y="6836.3" width="217" height="21.5"/><text class="t" x="530" y="6850.8">2.找一找诗里的地名。(见教材内容，略。)</text></g>
<g id="f63"><rect class="b" x="646" y="6982.3" width="95" height="21.5"/><text class="t" x="652" y="6996.8">3.抢答，说地名。</text></g>
<g id="f64"><rect class="b" x="405" y="6886.5" width="223" height="35"/><text class="t" x="411" y="6901">说出三条以城市命名的路名：中山路、南京路<tspan x="411" dy="13.5">、北京路</tspan></text></g>
<g id="f65"><rect class="b" x="405" y="6946.5" width="223" height="35"/><text class="t" x="411" y="6961">说出三个用少数民族语命名的城市：拉萨、呼<tspan x="411" dy="13.5">和浩特、乌鲁木齐</tspan></text></g>
<g id="f66"><rect class="b" x="405" y="7005.5" width="223" height="35"/><text class="t" x="411" y="7020">说出三个带"阳"字的城市名：岳阳、洛阳、衡<tspan x="411" dy="13.5">阳</tspan></text></g>
<g id="f67"><rect class="b" x="405" y="7067.5" width="223" height="35"/><text class="t" x="411" y="7082">说出三个带"州"字的城市名：湖州、杭州、苏<tspan x="411" dy="13.5">州</tspan></text></g>
<g id="f68"><rect class="b" x="555" y="7129.3" width="186" height="21.5"/><text class="t" x="561" y="7143.8">4.介绍一个地名的来历。(每组轮流说)</text></g>
<g id="f69"><rect class="b" x="518" y="7175.5" width="223" height="35"/><text class="t" x="524" y="7190">5.把地名串联在一起，编一个有趣的故事。(<tspan x="524" dy="13.5">加分题)</tspan></text></g>
<g id="f70"><rect class="b" x="383" y="7182.3" width="114" height="21.5"/><text class="t" x="389" y="7196.8">(三)评选优秀活动小组</text></g>
<g id="f71"><rect class="b" x="288" y="7182.3" width="75" height="21.5"/><text class="t" x="294" y="7196.8">第四、五课时</text></g>
<g id="f72"><rect class="b" x="184" y="7182.3" width="84" height="21.5"/><text class="t" x="190" y="7196.8">学写"调查报告"</text></g>
<g id="f73"><rect class="b" x="518" y="7236.8" width="223" height="48.5"/><text class="t" x="524" y="7251.3">1.内容：主要是对地名的历史渊源、变迁等情<tspan x="524" dy="13.5">况进行调查，经过分析，客观地写出书面报告</tspan><tspan x="524" dy="13.5">。</tspan></text></g>
<g id="f74"><rect class="b" x="518" y="7313.5" width="223" height="35"/><text class="t" x="524" y="7328">2.基本结构：包括题目、内容来源、报告内容<tspan x="524" dy="13.5">、附件注释、调查人姓名、时间。</tspan></text></g>
<g id="f75"><rect class="b" x="518" y="7372.3" width="223" height="75.5"/><text class="t" x="524" y="7386.8">3.引导学生在阅读例文时发现报告内容，要用<tspan x="524" dy="13.5">事实说话，如第二自然段是丁丁根据采访和看</tspan><tspan x="524" dy="13.5">资料获得的信息，第三自然段写出自己调查的</tspan><tspan x="524" dy="13.5">。同时，在报告中写出了调查的结论："可以</tspan><tspan x="524" dy="13.5">说这条苏州街，是用民脂民膏建成的。"</tspan></text></g>
<g id="f76"><rect class="b" x="552" y="7474.3" width="189" height="21.5"/><text class="t" x="558" y="7488.8">4.学生根据收集的资料撰写调查报告。</text></g>
<g id="f77"><rect class="b" x="520" y="7522.3" width="221" height="21.5"/><text class="t" x="526" y="7536.8">5.引导学生对撰写出的报告进行评议、修改。</text></g>
<g id="f78"><rect class="b" x="594" y="7570.3" width="147" height="21.5"/><text class="t" x="600" y="7584.8">6.学生较好的作品进行展示。</text></g>
</g>
<g id="nodes-r1">
<g id="p1"><rect class="b" x="1474" y="1960.3" width="64" height="21.5"/><text class="t" x="1480" y="1974.8">教学目标：</text></g>
<g id="p2"><rect class="b" x="1559" y="1878.5" width="223" height="35"/><text class="t" x="1565" y="1893">通过本组课文的学习，对学生进行热爱家乡、<tspan x="1565" dy="13.5">热爱祖国的教育。</tspan></text></g>
<g id="p3"><rect class="b" x="1559" y="1940" width="223" height="62"/><text class="t" x="1565" y="1954.5">通过读地图、调查访问、收集资料、游艺活动<tspan x="1565" dy="13.5">等，使学生透过地名，了解历史文化知识，学</tspan><tspan x="1565" dy="13.5">会整理资料、提取信息、撰写调查报告，体会</tspan><tspan x="1565" dy="13.5">其中的文化。</tspan></text></g>
<g id="p4"><rect class="b" x="1559" y="2026.5" width="223" height="35"/><text class="t" x="1565" y="2041">在收集、介绍地名的过程中，用自己获得的识<tspan x="1565" dy="13.5">字方法自觉识字。</tspan></text></g>
<g id="p5"><rect class="b" x="1474" y="2095.3" width="64" height="21.5"/><text class="t" x="1480" y="2109.8">教学重点：</text></g>
<g id="p6"><rect class="b" x="1559" y="2088.5" width="223" height="35"/><text class="t" x="1565" y="2103">掌握更多有关地名的知识，学会整理信息，激<tspan x="1565" dy="13.5">发起热爱家乡，热爱祖国的的情感。</tspan></text></g>
<g id="p7"><rect class="b" x="1474" y="2170.3" width="64" height="21.5"/><text class="t" x="1480" y="2184.8">教学难点：</text></g>
<g id="p8"><rect class="b" x="1559" y="2150" width="223" height="62"/><text class="t" x="1565" y="2164.5">通过读地图、调查访问、收集资料、游艺活动<tspan x="1565" dy="13.5">等，使学生透过地名，了解历史文化知识，学</tspan><tspan x="1565" dy="13.5">会整理资料、提取信息、撰写调查报告，体会</tspan><tspan x="1565" dy="13.5">其中的文化。</tspan></text></g>
<g id="p9"><rect class="b" x="1474" y="2261.3" width="64" height="21.5"/><text class="t" x="1480" y="2275.8">教法学法：</text></g>
<g id="p10"><rect class="b" x="1559" y="2238.3" width="44" height="21.5"/><text class="t" x="1565" y="2252.8">导读法</text></g>
<g id="p11"><rect class="b" x="1559" y="2285.3" width="86" height="21.5"/><text class="t" x="1565" y="2299.8">小组合作交流法</text></g>
<g id="p12"><rect class="b" x="1474" y="2333.3" width="64" height="21.5"/><text class="t" x="1480" y="2347.8">教学过程：</text></g>
<g id="p13"><rect class="b" x="1474" y="2629.3" width="138" height="21.5"/><text class="t" x="1480" y="2643.8">一、情景导入，揭示课题。</text></g>
<g id="p14"><rect class="b" x="1633" y="2411.3" width="223" height="75.5"/><text class="t" x="1639" y="2425.8">1、在我们学校和家庭的周围，有许多有趣别<tspan x="1639" dy="13.5">致的地方，它们有的折射出当地风土人情的影</tspan><tspan x="1639" dy="13.5">子，有的记载了岁月更迭的变化，有的对应着</tspan><tspan x="1639" dy="13.5">祖国的锦绣山河……许多地名都蕴含着丰富的</tspan><tspan x="1639" dy="13.5">历史文化知识。</tspan></text></g>
<g id="p15"><rect class="b" x="1878" y="2379.3" width="117" height="21.5"/><text class="t" x="1884" y="2393.8">出示：丁丁家乡的地图</text></g>
<g id="p16"><rect class="b" x="1878" y="2431.5" width="223" height="35"/><text class="t" x="1884" y="2446">观察丁丁家乡的地图你发现了什么？ （同学<tspan x="1884" dy="13.5">们自由说一说）</tspan></text></g>
<g id="p17"><rect class="b" x="1878" y="2489.5" width="223" height="35"/><text class="t" x="1884" y="2504">小组讨论：你发现丁丁家乡的地名有什么特点<tspan x="1884" dy="13.5">？你了解这些地名的人文内涵吗？</tspan></text></g>
<g id="p18"><rect class="b" x="1633" y="2604.3" width="81" height="21.5"/><text class="t" x="1639" y="2618.8">2、小组交流。</text></g>
<g id="p19"><rect class="b" x="1735" y="2548.3" width="191" height="21.5"/><text class="t" x="1741" y="2562.8">如：中山路、鲁迅公园这是人的名字。</text></g>
<g id="p20"><rect class="b" x="1735" y="2597.5" width="223" height="35"/><text class="t" x="1741" y="2612">香港路、哈尔滨路、北京路、上海路等，这些<tspan x="1741" dy="13.5">是城市的名字。</tspan></text></g>
<g id="p21"><rect class="b" x="1735" y="2658.3" width="212" height="21.5"/><text class="t" x="1741" y="2672.8">八达岭团岛、小鱼山等这些是地理的名称。</text></g>
<g id="p22"><rect class="b" x="1633" y="2813.5" width="223" height="35"/><text class="t" x="1639" y="2828">3、找来自己家乡的地图，看看家乡的地名有<tspan x="1639" dy="13.5">什么特点？</tspan></text></g>
<g id="p23"><rect class="b" x="1878" y="2705.3" width="64" height="21.5"/><text class="t" x="1884" y="2719.8">日积月累。</text></g>
<g id="p24"><rect class="b" x="1878" y="2753.5" width="223" height="35"/><text class="t" x="1884" y="2768">同学们在课余时间收集了不少全国及世界各地<tspan x="1884" dy="13.5">的地名，现在我们将这些地名进行分类。</tspan></text></g>
<g id="p25"><rect class="b" x="1878" y="2813.5" width="223" height="35"/><text class="t" x="1884" y="2828">含有方位的词；表示颜色的词；含有和水有关<tspan x="1884" dy="13.5">的词；含有地方特产的名称；人名；姓式。</tspan></text></g>
<g id="p26"><rect class="b" x="1878" y="2874.5" width="223" height="35"/><text class="t" x="1884" y="2889">你在收集、介绍城市名字的过程中，遇到不认<tspan x="1884" dy="13.5">识的字你怎样解决的呢?</tspan></text></g>
<g id="p27"><rect class="b" x="1878" y="2936.3" width="138" height="21.5"/><text class="t" x="1884" y="2950.8">接着课本中的地名往下读。</text></g>
</g>
<g id="nodes-r3">
<g id="q1"><rect class="b" x="1474" y="3020.3" width="64" height="21.5"/><text class="t" x="1480" y="3034.8">教学目标：</text></g>
<g id="q2"><rect class="b" x="1559" y="2982.5" width="223" height="35"/><text class="t" x="1565" y="2997">1.通过自读感悟，感受草原自然风光，受到美<tspan x="1565" dy="13.5">的熏陶。</tspan></text></g>
<g id="q3"><rect class="b" x="1559" y="3043.5" width="223" height="35"/><text class="t" x="1565" y="3058">2.有感情地朗读草原美丽景色的段落，并且能<tspan x="1565" dy="13.5">背下来。</tspan></text></g>
<g id="q4"><rect class="b" x="1474" y="3105.3" width="64" height="21.5"/><text class="t" x="1480" y="3119.8">教学难点：</text></g>
<g id="q5"><rect class="b" x="1559" y="3105.3" width="117" height="21.5"/><text class="t" x="1565" y="3119.8">理解意思较深的句子。</text></g>
<g id="q6"><rect class="b" x="1474" y="3152.3" width="64" height="21.5"/><text class="t" x="1480" y="3166.8">教学时间：</text></g>
<g id="q7"><rect class="b" x="1559" y="3152.3" width="54" height="21.5"/><text class="t" x="1565" y="3166.8">第一课时</text></g>
<g id="q8"><rect class="b" x="1474" y="3470.3" width="64" height="21.5"/><text class="t" x="1480" y="3484.8">教学过程：</text></g>
<g id="q9"><rect class="b" x="1559" y="3268.3" width="128" height="21.5"/><text class="t" x="1565" y="3282.8">一、激情导入，板书课题</text></g>
<g id="q10"><rect class="b" x="1709" y="3220.3" width="74" height="21.5"/><text class="t" x="1715" y="3234.8">1.激情导入。</text></g>
<g id="q11"><rect class="b" x="1799" y="3200" width="223" height="62"/><text class="t" x="1805" y="3214.5">同学们，那辽阔的草原是个景色迷人，令人神<tspan x="1805" dy="13.5">往的地方，想去欣赏吗(想)请让我带大家去领</tspan><tspan x="1805" dy="13.5">略草原那美丽的风光。播放《美丽的草原我的</tspan><tspan x="1805" dy="13.5">家》录像，让学生欣赏。</tspan></text></g>
<g id="q12"><rect class="b" x="1709" y="3287.3" width="223" height="75.5"/><text class="t" x="1715" y="3301.8">2.板书课题。欣赏完了，草原留给大家最深的<tspan x="1715" dy="13.5">印象是什么(景色美丽，草原辽阔)作家老舍先</tspan><tspan x="1715" dy="13.5">生笔下所描绘的内蒙古草原又是怎样的呢带着</tspan><tspan x="1715" dy="13.5">疑问，这节，我们一起来学习12.《草原》这</tspan><tspan x="1715" dy="13.5">篇课文，板书课题：草原</tspan></text></g>
<g id="q13"><rect class="b" x="1559" y="3462.3" width="170" height="21.5"/><text class="t" x="1565" y="3476.8">二、整体感知，自主选择学习内容</text></g>
<g id="q14"><rect class="b" x="1750" y="3392" width="223" height="62"/><text class="t" x="1756" y="3406.5">1.同学们课前都做了充分的预习，初略地读了<tspan x="1756" dy="13.5">课文，我可以向大家提个问题吗(可以)课题是</tspan><tspan x="1756" dy="13.5">草原，课文写了草原什么呢板：景色美丽热情</tspan><tspan x="1756" dy="13.5">好客。</tspan></text></g>
<g id="q15"><rect class="b" x="1750" y="3512.3" width="116" height="21.5"/><text class="t" x="1756" y="3526.8">2.选择喜欢的学习内容</text></g>
<g id="q16"><rect class="b" x="1885" y="3478.5" width="223" height="89"/><text class="t" x="1891" y="3493">在"景色美丽"和"热情好客"两部分内容中，喜<tspan x="1891" dy="13.5">欢"景色美丽"这部分内容的同学请举右手，喜</tspan><tspan x="1891" dy="13.5">欢"热情好客"这部分内容的同学请举左手。(</tspan><tspan x="1891" dy="13.5">看来呀，萝卜青菜，各有所爱)现在，大家最</tspan><tspan x="1891" dy="13.5">想去感受哪部分内容呢(景色美丽)为什么呢我</tspan><tspan x="1891" dy="13.5">尊重大家的意愿，带大家去感受这部分内容。</tspan></text></g>
<g id="q17"><rect class="b" x="1559" y="3672.3" width="221" height="21.5"/><text class="t" x="1565" y="3686.8">三、自主、合作、探究"景色美丽"这部分内容</text></g>
<g id="q18"><rect class="b" x="1801" y="3665.5" width="223" height="35"/><text class="t" x="1807" y="3680">1.自读自找(不理解词、句、其它问题)合作、<tspan x="1807" dy="13.5">探究(不懂的问题)相互评价。(以小组为单位)</tspan></text></g>
<g id="q19"><rect class="b" x="2045" y="3595.3" width="192" height="21.5"/><text class="t" x="2051" y="3609.8">2 .各小组汇报学习情况，师生共议疑问。</text></g>
<g id="q20"><rect class="b" x="2045" y="3642" width="225" height="62"/><text class="t" x="2051" y="3656.5">①先让其中一个小组汇报情况。小组中的同学<tspan x="2051" dy="13.5">找出哪些不懂的问题解决了哪些问题用什么方</tspan><tspan x="2051" dy="13.5">法解决的还有不能解决问题吗其它组的哪位同</tspan><tspan x="2051" dy="13.5">学能帮助解决谁能评一评回答的问题</tspan></text></g>
<g id="q21"><rect class="b" x="2045" y="3736.8" width="225" height="48.5"/><text class="t" x="2051" y="3751.3">②除这组的同学所提出问题外，其它组同学还<tspan x="2051" dy="13.5">有问题吗谁来帮忙解决谁能评价同学回答的问</tspan><tspan x="2051" dy="13.5">题</tspan></text></g>
<g id="q22"><rect class="b" x="2290" y="3730" width="225" height="62"/><text class="t" x="2296" y="3744.5">未能解决或解决不理想时，教师启发、解疑，<tspan x="2296" dy="13.5">学生对"翠流、勾勒、渲染"等词理解不深刻。</tspan><tspan x="2296" dy="13.5">教学中采用"实物感悟法"(翠流)，操作演示法(</tspan><tspan x="2296" dy="13.5">勾勒、渲染)加深对词意思理解。</tspan></text></g>
</g>
<g id="nodes-r5">
<g id="s1"><rect class="b" x="1474" y="3917.3" width="96" height="21.5"/><text class="t" x="1480" y="3931.8">一、单元教学目标</text></g>
<g id="s2"><rect class="b" x="1590" y="3820.8" width="223" height="48.5"/><text class="t" x="1596" y="3835.3">1、使学生明白地名是各个历史时代人类活动<tspan x="1596" dy="13.5">的产物，也是人们工作、生活、交往不可缺少</tspan><tspan x="1596" dy="13.5">的工具。</tspan></text></g>
<g id="s3"><rect class="b" x="1590" y="3897" width="223" height="62"/><text class="t" x="1596" y="3911.5">2、让学生在读地图、调查访问、收集资料等<tspan x="1596" dy="13.5">活动中，透过地名，了解历史文化知识，学会</tspan><tspan x="1596" dy="13.5">整理资料、提取信息、撰写调查报告，体会其</tspan><tspan x="1596" dy="13.5">中的文化，提升爱家乡、爱祖国的情感。</tspan></text></g>
<g id="s4"><rect class="b" x="1590" y="3981" width="223" height="62"/><text class="t" x="1596" y="3995.5">3、通过丁丁、冬冬等人物的吐白，启发学生<tspan x="1596" dy="13.5">发现地名的由来，鼓励学生找本地的地图，经</tspan><tspan x="1596" dy="13.5">过读图的活动，发现地名的特点，帮助学生了</tspan><tspan x="1596" dy="13.5">解地名的文化内涵。</tspan></text></g>
<g id="s5"><rect class="b" x="1474" y="4129.3" width="75" height="21.5"/><text class="t" x="1480" y="4143.8">二、教学重点</text></g>
<g id="s6"><rect class="b" x="1569" y="4071.3" width="207" height="21.5"/><text class="t" x="1575" y="4085.8">1、课前让学生充分做好资料的收集工作。</text></g>
<g id="s7"><rect class="b" x="1569" y="4122.5" width="223" height="35"/><text class="t" x="1575" y="4137">2、让学生通过了解地名的来历及变化，懂得<tspan x="1575" dy="13.5">地名中蕴涵的文化。</tspan></text></g>
<g id="s8"><rect class="b" x="1569" y="4179.5" width="223" height="35"/><text class="t" x="1575" y="4194">3、以"地名"为主线，开展一系列语文学习活<tspan x="1575" dy="13.5">动，锻炼学生的能力。</tspan></text></g>
<g id="s9"><rect class="b" x="1474" y="4322.3" width="75" height="21.5"/><text class="t" x="1480" y="4336.8">三、教学难点</text></g>
<g id="s10"><rect class="b" x="1569" y="4240.8" width="223" height="48.5"/><text class="t" x="1575" y="4255.3">1、地名的变化与历史、社会制度的变化与发<tspan x="1575" dy="13.5">展有密切的关系，这些与学生的现实生活有距</tspan><tspan x="1575" dy="13.5">离，让他们了解不是一件容易的事。</tspan></text></g>
<g id="s11"><rect class="b" x="1569" y="4308.8" width="223" height="48.5"/><text class="t" x="1575" y="4323.3">2、教学前，师生都应做充分的准备，学生要<tspan x="1575" dy="13.5">收集资料，教师要为学生的语文活动做动员、</tspan><tspan x="1575" dy="13.5">鼓励和示范，并教学生写好活动计划。</tspan></text></g>
<g id="s12"><rect class="b" x="1569" y="4390.3" width="123" height="21.5"/><text class="t" x="1575" y="4404.8">3、教学生写调查报告。</text></g>
<g id="s13"><rect class="b" x="1474" y="4464.3" width="75" height="21.5"/><text class="t" x="1480" y="4478.8">四、课前准备</text></g>
<g id="s14"><rect class="b" x="1569" y="4438.3" width="112" height="21.5"/><text class="t" x="1575" y="4452.8">1、家乡的地图一幅。</text></g>
<g id="s15"><rect class="b" x="1569" y="4485.5" width="223" height="35"/><text class="t" x="1575" y="4500">2、布置学生收集本地的地名、全国其他地区<tspan x="1575" dy="13.5">的地名及有关资料。</tspan></text></g>
<g id="s16"><rect class="b" x="1474" y="4545.3" width="75" height="21.5"/><text class="t" x="1480" y="4559.8">五、教学时间</text></g>
<g id="s17"><rect class="b" x="1569" y="4545.3" width="39" height="21.5"/><text class="t" x="1575" y="4559.8">6课时</text></g>
<g id="s18"><rect class="b" x="1474" y="6019.3" width="75" height="21.5"/><text class="t" x="1480" y="6033.8">六、教学过程</text></g>
<g id="s19"><rect class="b" x="1569" y="4787.3" width="54" height="21.5"/><text class="t" x="1575" y="4801.8">第一课时</text></g>
<g id="s20"><rect class="b" x="1643" y="4640.3" width="93" height="21.5"/><text class="t" x="1649" y="4654.8">(一)谈话导入新课</text></g>
<g id="s21"><rect class="b" x="1756" y="4592.8" width="223" height="48.5"/><text class="t" x="1762" y="4607.3">同学们，我们居住的城市叫什么名字？（长沙<tspan x="1762" dy="13.5">）长沙的哪些地方是我们熟悉的？（学生自由</tspan><tspan x="1762" dy="13.5">发言）</tspan></text></g>
<g id="s22"><rect class="b" x="1756" y="4667.5" width="223" height="35"/><text class="t" x="1762" y="4682">想不想知道我们的好朋友丁丁的家乡有些什么<tspan x="1762" dy="13.5">地方？让我们一起去看一看吧！</tspan></text></g>
<g id="s23"><rect class="b" x="1643" y="4787.3" width="114" height="21.5"/><text class="t" x="1649" y="4801.8">(二)看丁丁家乡的地图</text></g>
<g id="s24"><rect class="b" x="1777" y="4729" width="223" height="62"/><text class="t" x="1783" y="4743.5">1、引导学生读图，找一找地名，感受地名的<tspan x="1783" dy="13.5">特点。如春华胡同、秋实胡同，中山西路，刘</tspan><tspan x="1783" dy="13.5">家堡，山东大街、银川大街、拉萨大街，正义</tspan><tspan x="1783" dy="13.5">西路等等。</tspan></text></g>
<g id="s25"><rect class="b" x="1777" y="4817.5" width="223" height="35"/><text class="t" x="1783" y="4832">2、联系家乡的地名，启发学生思考、猜测图<tspan x="1783" dy="13.5">中地名的由来。</tspan></text></g>
<g id="s26"><rect class="b" x="2021" y="4817.5" width="223" height="35"/><text class="t" x="2027" y="4832">例如"中山路"，我们这儿也有，是为了纪念伟<tspan x="2027" dy="13.5">大的革命者xxx。</tspan></text></g>
<g id="s27"><rect class="b" x="1643" y="4932.3" width="114" height="21.5"/><text class="t" x="1649" y="4946.8">(三)看自己家乡的地图</text></g>
<g id="s28"><rect class="b" x="1777" y="4878.3" width="165" height="21.5"/><text class="t" x="1783" y="4892.8">1、说说家乡熟悉的地名及由来。</text></g>
<g id="s29"><rect class="b" x="1777" y="4925.5" width="223" height="35"/><text class="t" x="1783" y="4940">2、你知道哪些地名有变化，变化的原因是什<tspan x="1783" dy="13.5">么？</tspan></text></g>
<g id="s30"><rect class="b" x="1777" y="4987.3" width="91" height="21.5"/><text class="t" x="1783" y="5001.8">3、你有何感想？</text></g>
<g id="s31"><rect class="b" x="1569" y="5413.3" width="54" height="21.5"/><text class="t" x="1575" y="5427.8">第二课时</text></g>
<g id="s32"><rect class="b" x="1643" y="5259.3" width="61" height="21.5"/><text class="t" x="1649" y="5273.8">(一)找规律</text></g>
<g id="s33"><rect class="b" x="1722" y="5159.5" width="223" height="35"/><text class="t" x="1728" y="5174">1、列举以下地名分类排列，启发学生找出其<tspan x="1728" dy="13.5">中的规律。</tspan></text></g>
<g id="s34"><rect class="b" x="1966" y="5033.3" width="222" height="21.5"/><text class="t" x="1972" y="5047.8">地名里含有方位词，如北京、南宁、西安……</text></g>
<g id="s35"><rect class="b" x="1966" y="5081.5" width="223" height="35"/><text class="t" x="1972" y="5096">地名里含有和水有关的词，如上海、杭州、香<tspan x="1972" dy="13.5">港……</tspan></text></g>
<g id="s36"><rect class="b" x="1966" y="5143.3" width="201" height="21.5"/><text class="t" x="1972" y="5157.8">表示颜色的词，如青岛、黑河、黄山……</text></g>
<g id="s37"><rect class="b" x="1966" y="5190.3" width="222" height="21.5"/><text class="t" x="1972" y="5204.8">含有地方特产名称，如铜陵、桂林、铁岭……</text></g>
<g id="s38"><rect class="b" x="1966" y="5235.5" width="223" height="35"/><text class="t" x="1972" y="5250">含有人名，如张自忠路、佟麟阁路、中山路…<tspan x="1972" dy="13.5">…</tspan></text></g>
<g id="s39"><rect class="b" x="1966" y="5297.3" width="211" height="21.5"/><text class="t" x="1972" y="5311.8">含有姓氏，如赵家庄、孙家屯、苏家坨……</text></g>
<g id="s40"><rect class="b" x="1722" y="5345.5" width="223" height="35"/><text class="t" x="1728" y="5360">2、根据以上分类，你还能写出一些地名吗？<tspan x="1728" dy="13.5">（让学生将收集的城市名称介绍给大家）</tspan></text></g>
<g id="s41"><rect class="b" x="1643" y="5432.3" width="61" height="21.5"/><text class="t" x="1649" y="5446.8">(二)读一读</text></g>
<g id="s42"><rect class="b" x="1722" y="5407.3" width="123" height="21.5"/><text class="t" x="1728" y="5421.8">1、朗读课本上的词语。</text></g>
<g id="s43"><rect class="b" x="1722" y="5453.5" width="223" height="35"/><text class="t" x="1728" y="5468">2、交流自己的资料，在介绍中外城市名称的<tspan x="1728" dy="13.5">过程中，用自己掌握的方法识字。</tspan></text></g>
<g id="s44"><rect class="b" x="1643" y="5565.3" width="61" height="21.5"/><text class="t" x="1649" y="5579.8">(三)说一说</text></g>
<g id="s45"><rect class="b" x="1722" y="5514.8" width="223" height="48.5"/><text class="t" x="1728" y="5529.3">1、查找一个地名的相关资料，把了解的知识<tspan x="1728" dy="13.5">（包括地名的来历、变迁、特点）报告给大家</tspan><tspan x="1728" dy="13.5">。</tspan></text></g>
<g id="s46"><rect class="b" x="1722" y="5589.8" width="223" height="48.5"/><text class="t" x="1728" y="5604.3">2、说说自己从地名中掌握了什么知识（从历<tspan x="1728" dy="13.5">史、经济、人物、民族、社会发展等方面谈）</tspan><tspan x="1728" dy="13.5">。</tspan></text></g>
<g id="s47"><rect class="b" x="1569" y="6298.3" width="126" height="21.5"/><text class="t" x="1575" y="6312.8">第三课时："地名游艺会"</text></g>
<g id="s48"><rect class="b" x="1717" y="5855.3" width="71" height="21.5"/><text class="t" x="1723" y="5869.8">(一)活动准备</text></g>
<g id="s49"><rect class="b" x="1807" y="5665.5" width="223" height="35"/><text class="t" x="1813" y="5680">1、收集了大量关于地名的信息之后，启发学<tspan x="1813" dy="13.5">生自己设计、组织、开展"地名游艺会"活动。</tspan></text></g>
<g id="s50"><rect class="b" x="1807" y="5725.8" width="223" height="48.5"/><text class="t" x="1813" y="5740.3">2、引导学生把获取的知识进行整理。学生可<tspan x="1813" dy="13.5">以按照兴趣分组，小组合作编排游戏，并设计</tspan><tspan x="1813" dy="13.5">好游戏的规则，然后共同游艺。</tspan></text></g>
<g id="s51"><rect class="b" x="1807" y="5801" width="223" height="62"/><text class="t" x="1813" y="5815.5">3、在组织设计阶段可以先收集地名谜语，再<tspan x="1813" dy="13.5">自己创编谜语；收集吟诵含有地名的古诗；把</tspan><tspan x="1813" dy="13.5">地名串写成相声或者有趣的描述生活经历的文</tspan><tspan x="1813" dy="13.5">章……</tspan></text></g>
<g id="s52"><rect class="b" x="1807" y="5890" width="223" height="62"/><text class="t" x="1813" y="5904.5">4、教师参与到学生的活动中，对设计活动有<tspan x="1813" dy="13.5">困难的小组或者活动难度大的小组进行指导，</tspan><tspan x="1813" dy="13.5">在和学生的共同活动中，教师也可以获得丰富</tspan><tspan x="1813" dy="13.5">的知识。</tspan></text></g>
<g id="s53"><rect class="b" x="1807" y="5977.3" width="81" height="21.5"/><text class="t" x="1813" y="5991.8">5、布置教室。</text></g>
<g id="s54"><rect class="b" x="1807" y="6024.8" width="223" height="48.5"/><text class="t" x="1813" y="6039.3">6、游艺会分为五项，前四项每个小组必须参<tspan x="1813" dy="13.5">加，第五项为附加题，以最后累计的分数高低</tspan><tspan x="1813" dy="13.5">取前三名。</tspan></text></g>
<g id="s55"><rect class="b" x="1717" y="6442.3" width="71" height="21.5"/><text class="t" x="1723" y="6456.8">(二)活动项目</text></g>
<g id="s56"><rect class="b" x="1807" y="6193.3" width="144" height="21.5"/><text class="t" x="1813" y="6207.8">1、猜城市名，编地名谜语。</text></g>
<g id="s57"><rect class="b" x="1970" y="6099.5" width="223" height="35"/><text class="t" x="1976" y="6114">（1）老师出谜面，学生抢答，看哪组猜对的<tspan x="1976" dy="13.5">多。</tspan></text></g>
<g id="s58"><rect class="b" x="1970" y="6159.5" width="223" height="35"/><text class="t" x="1976" y="6174">金银铜铁（无锡）倾盆大雨（天水）四季温暖<tspan x="1976" dy="13.5">（长春）</tspan></text></g>
<g id="s59"><rect class="b" x="1970" y="6221.5" width="223" height="35"/><text class="t" x="1976" y="6236">双喜临门（重庆）风平浪静（宁波）戈壁滩（<tspan x="1976" dy="13.5">长沙）</tspan></text></g>
<g id="s60"><rect class="b" x="1970" y="6282.3" width="201" height="21.5"/><text class="t" x="1976" y="6296.8">（2）各小组互相出题，看谁答对的多。</text></g>
<g id="s61"><rect class="b" x="1807" y="6329.5" width="223" height="35"/><text class="t" x="1813" y="6344">2、找一找诗里的地名。（见教材内容，略。<tspan x="1813" dy="13.5">）</tspan></text></g>
<g id="s62"><rect class="b" x="1807" y="6489.3" width="102" height="21.5"/><text class="t" x="1813" y="6503.8">3、抢答，说地名。</text></g>
<g id="s63"><rect class="b" x="1929" y="6391.5" width="223" height="35"/><text class="t" x="1935" y="6406">说出三条以城市命名的路名：中山路、南京路<tspan x="1935" dy="13.5">、北京路</tspan></text></g>
<g id="s64"><rect class="b" x="1929" y="6452.5" width="223" height="35"/><text class="t" x="1935" y="6467">说出三个用少数民族语命名的城市：拉萨、呼<tspan x="1935" dy="13.5">和浩特、乌鲁木齐</tspan></text></g>
<g id="s65"><rect class="b" x="1929" y="6513.5" width="223" height="35"/><text class="t" x="1935" y="6528">说出三个带"阳"字的城市名：岳阳、洛阳、衡<tspan x="1935" dy="13.5">阳</tspan></text></g>
<g id="s66"><rect class="b" x="1929" y="6574.5" width="223" height="35"/><text class="t" x="1935" y="6589">说出三个带"州"字的城市名：湖州、杭州、苏<tspan x="1935" dy="13.5">州</tspan></text></g>
<g id="s67"><rect class="b" x="1807" y="6634.3" width="196" height="21.5"/><text class="t" x="1813" y="6648.8">4、介绍一个地名的来历。（每组轮流说）</text></g>
<g id="s68"><rect class="b" x="1807" y="6681.5" width="223" height="35"/><text class="t" x="1813" y="6696">5、把地名串联在一起，编一个有趣的故事。<tspan x="1813" dy="13.5">（加分题）</tspan></text></g>
<g id="s69"><rect class="b" x="1717" y="6743.3" width="114" height="21.5"/><text class="t" x="1723" y="6757.8">(三)评选优秀活动小组</text></g>
<g id="s70"><rect class="b" x="1569" y="6971.3" width="158" height="21.5"/><text class="t" x="1575" y="6985.8">第四、五课时：学写"调查报告"</text></g>
<g id="s71"><rect class="b" x="1747" y="6792.8" width="223" height="48.5"/><text class="t" x="1753" y="6807.3">1、内容：主要是对地名的历史渊源、变迁等<tspan x="1753" dy="13.5">情况进行调查，经过分析，客观地写出书面报</tspan><tspan x="1753" dy="13.5">告。</tspan></text></g>
<g id="s72"><rect class="b" x="1747" y="6866.5" width="223" height="35"/><text class="t" x="1753" y="6881">2、基本结构：包括题目、内容来源、报告内<tspan x="1753" dy="13.5">容、附件注释、调查人姓名、时间。</tspan></text></g>
<g id="s73"><rect class="b" x="1747" y="6927.3" width="223" height="75.5"/><text class="t" x="1753" y="6941.8">3、引导学生在阅读例文时发现报告内容，要<tspan x="1753" dy="13.5">用事实说话，如第二自然段是丁丁根据采访和</tspan><tspan x="1753" dy="13.5">看资料获得的信息，第三自然段写出自己调查</tspan><tspan x="1753" dy="13.5">的。同时，在报告中写出了调查的结论："可</tspan><tspan x="1753" dy="13.5">以说这条苏州街，是用民脂民膏建成的。"</tspan></text></g>
<g id="s74"><rect class="b" x="1747" y="7028.3" width="196" height="21.5"/><text class="t" x="1753" y="7042.8">4、学生根据收集的资料撰写调查报告。</text></g>
<g id="s75"><rect class="b" x="1747" y="7075.5" width="223" height="35"/><text class="t" x="1753" y="7090">5、引导学生对撰写出的报告进行评议、修改<tspan x="1753" dy="13.5">。</tspan></text></g>
<g id="s76"><rect class="b" x="1747" y="7137.3" width="154" height="21.5"/><text class="t" x="1753" y="7151.8">6、学生较好的作品进行展示。</text></g>
<g id="s77"><rect class="b" x="1569" y="7252.3" width="54" height="21.5"/><text class="t" x="1575" y="7266.8">第六课时</text></g>
<g id="s78"><rect class="b" x="1643" y="7252.3" width="145" height="21.5"/><text class="t" x="1649" y="7266.8">(一)学习自读课文《趵突泉》</text></g>
<g id="s79"><rect class="b" x="1807" y="7192.3" width="91" height="21.5"/><text class="t" x="1813" y="7206.8">1、介绍写作背景。</text></g>
<g id="s80"><rect class="b" x="1929" y="7185.5" width="223" height="35"/><text class="t" x="1935" y="7200">《趵突泉》是老舍先生写的一篇很著名的散文<tspan x="1935" dy="13.5">。文中描绘了趵突泉的美丽景色。</tspan></text></g>
<g id="s81"><rect class="b" x="1807" y="7245.5" width="223" height="35"/><text class="t" x="1813" y="7260">2、学生自由阅读课文，划出自己认为优美的<tspan x="1813" dy="13.5">句子。</tspan></text></g>
<g id="s82"><rect class="b" x="1807" y="7307.5" width="223" height="35"/><text class="t" x="1813" y="7322">3、说说课文是怎样描写泉水的特点和泉眼的<tspan x="1813" dy="13.5">样子的。（泉水清浅、鲜活）</tspan></text></g>
</g>
<g id="watermark">
<text class="w" transform="translate(640 520) rotate(-31)" y="44">树图 shutu.cn</text>
<text class="w" transform="translate(640 1520) rotate(-31)" y="44">树图 shutu.cn</text>
<text class="w" transform="translate(640 2520) rotate(-31)" y="44">树图 shutu.cn</text>
<text class="w" transform="translate(640 3520) rotate(-31)" y="44">树图 shutu.cn</text>
<text class="w" transform="translate(640 4520) rotate(-31)" y="44">树图 shutu.cn</text>
<text class="w" transform="translate(640 5520) rotate(-31)" y="44">树图 shutu.cn</text>
<text class="w" transform="translate(640 6520) rotate(-31)" y="44">树图 shutu.cn</text>
<text class="w" transform="translate(640 7520) rotate(-31)" y="44">树图 shutu.cn</text>
<text class="w" transform="translate(1925 520) rotate(-31)" y="44">树图 shutu.cn</text>
<text class="w" transform="translate(1925 1520) rotate(-31)" y="44">树图 shutu.cn</text>
<text class="w" transform="translate(1925 2520) rotate(-31)" y="44">树图 shutu.cn</text>
<text class="w" transform="translate(1925 3520) rotate(-31)" y="44">树图 shutu.cn</text>
<text class="w" transform="translate(1925 4520) rotate(-31)" y="44">树图 shutu.cn</text>
<text class="w" transform="translate(1925 5520) rotate(-31)" y="44">树图 shutu.cn</text>
<text class="w" transform="translate(1925 6520) rotate(-31)" y="44">树图 shutu.cn</text>
<text class="w" transform="translate(1925 7520) rotate(-31)" y="44">树图 shutu.cn</text>
</g>
</g>
</svg>
